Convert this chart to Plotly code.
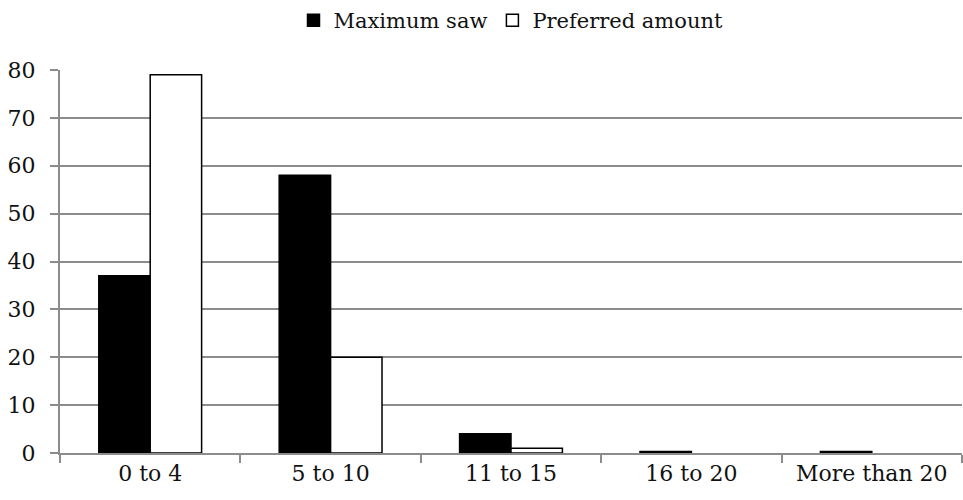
import plotly.graph_objects as go

categories = ["0 to 4", "5 to 10", "11 to 15", "16 to 20", "More than 20"]
maximum_saw = [37, 58, 4, 0.3, 0.3]
preferred_amount = [79, 20, 1, 0, 0]

FONT = "DejaVu Serif"
GRID = "#8c8c8c"


def outline_widths(values, width=1.5):
    # empty bars get no outline so nothing is drawn at zero
    return [width if v else 0 for v in values]


fig = go.Figure()
fig.add_trace(go.Bar(
    x=categories, y=maximum_saw, name="Maximum saw",
    marker=dict(color="black", line=dict(color="black", width=outline_widths(maximum_saw))),
))
fig.add_trace(go.Bar(
    x=categories, y=preferred_amount, name="Preferred amount",
    marker=dict(color="white", line=dict(color="black", width=outline_widths(preferred_amount))),
))

fig.update_layout(
    width=963, height=500,
    margin=dict(l=60, r=1, t=70, b=47),
    paper_bgcolor="white", plot_bgcolor="white",
    barmode="group", bargap=0.43, bargroupgap=0,
    font=dict(family=FONT, color="#111111", size=22),
    legend=dict(
        orientation="h", x=0.5, xanchor="center", y=1.0, yanchor="top",
        yref="container", font=dict(size=21), itemwidth=30,
    ),
    xaxis=dict(
        type="category", showgrid=False, showline=True, linecolor=GRID, linewidth=2,
        ticks="outside", tickson="boundaries", ticklen=8, tickcolor=GRID, tickwidth=2,
        tickfont=dict(size=22),
    ),
    yaxis=dict(
        range=[0, 80], dtick=10, showgrid=True, gridcolor=GRID, gridwidth=2,
        showline=True, linecolor=GRID, linewidth=2, zeroline=False,
        ticks="outside", ticklen=8, tickcolor=GRID, tickwidth=2,
        ticklabelstandoff=10, tickfont=dict(size=22),
    ),
)

fig.write_html("out.html")
